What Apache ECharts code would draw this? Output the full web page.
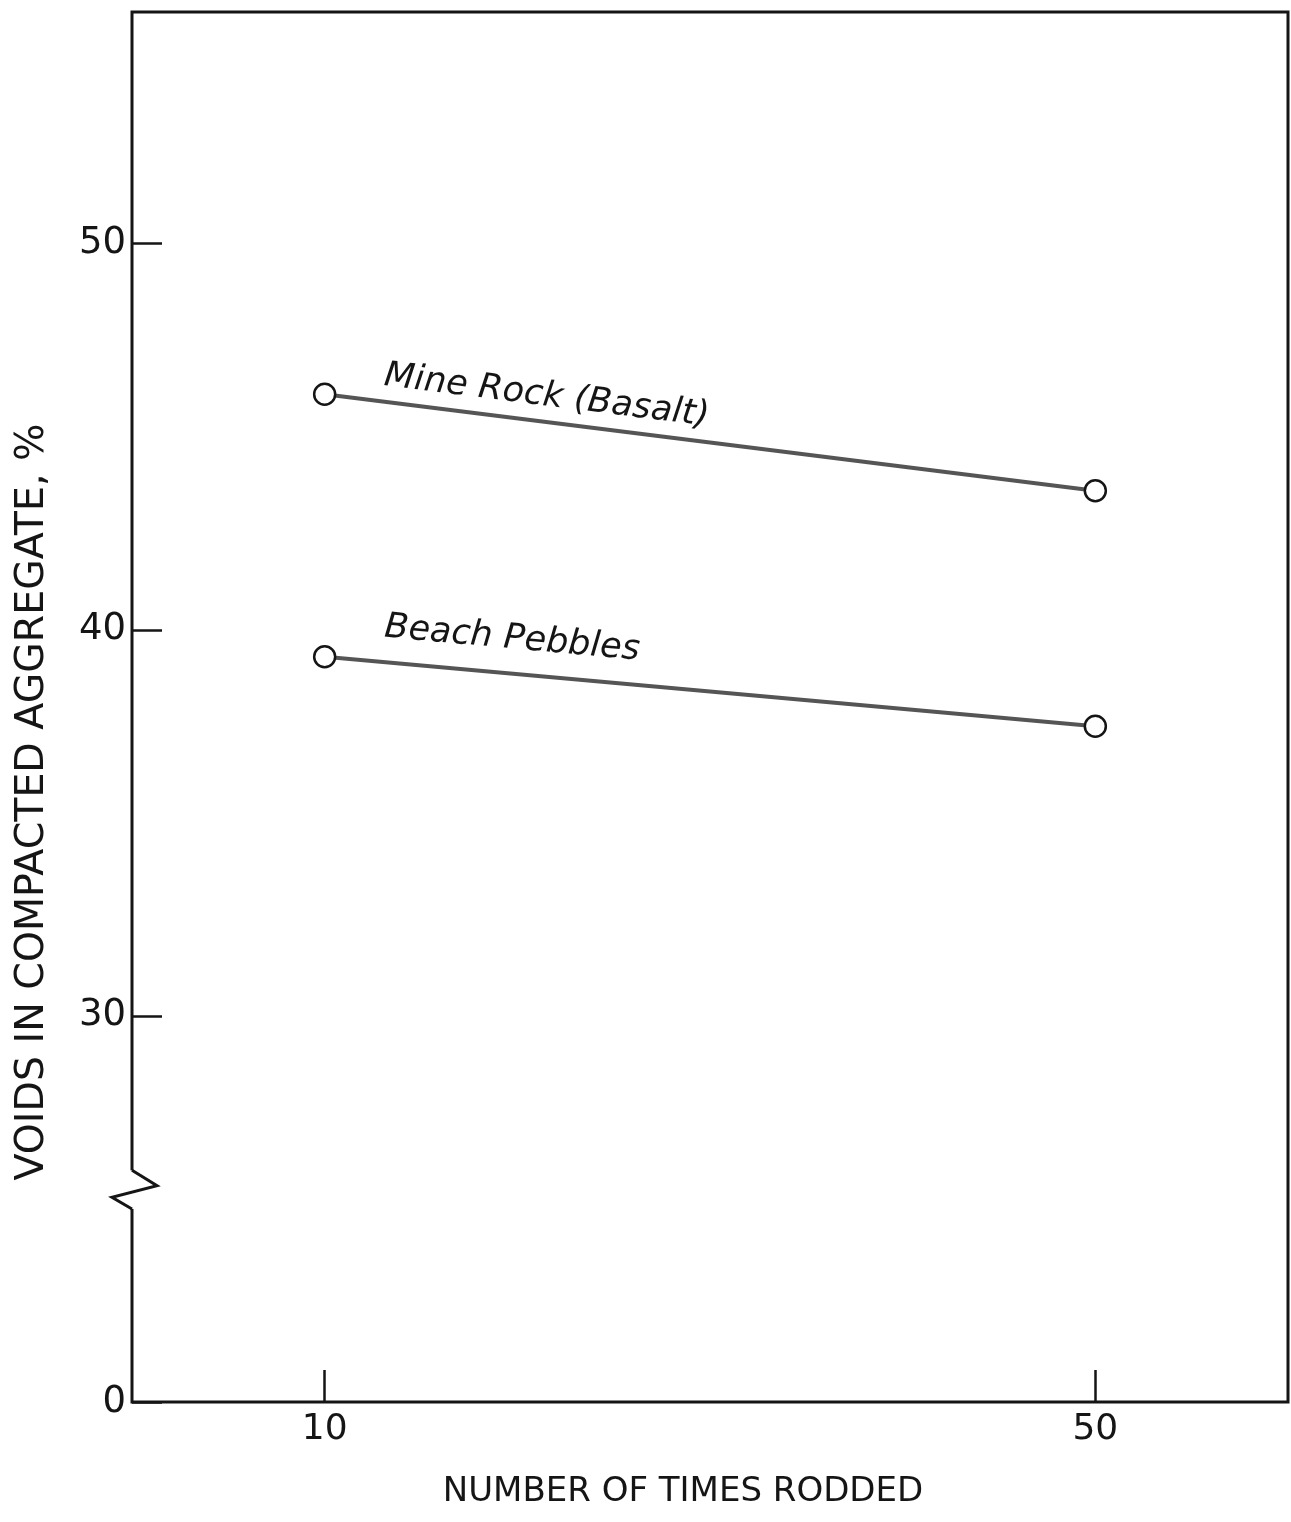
<!DOCTYPE html>
<html>
<head>
<meta charset="utf-8">
<title>Voids in Compacted Aggregate</title>
<script src="https://cdn.jsdelivr.net/npm/echarts@6.0.0/dist/echarts.min.js"></script>
<style>
  html, body { margin: 0; padding: 0; background: #fff; }
  #chart { width: 1291px; height: 1522px; }
</style>
</head>
<body>
<div id="chart"></div>
<script>
// Rodding counts and measured void content (%)
const rodCounts = [10, 50];
const mineRock = [46.1, 43.6];
const beachPebbles = [39.3, 37.5];
const seriesNames = ['Mine Rock (Basalt)', 'Beach Pebbles'];

// Axis tick positions; the bottom of the value axis is broken and labelled 0
const xTicks = [10, 50];
const yTicks = [20, 30, 40, 50];
const yTickLabels = { 20: '0', 30: '30', 40: '40', 50: '50' };
const breakValues = [26, 25.6, 25.3, 25];

const FONT = '"DejaVu Sans", sans-serif';
const INK = '#151515';

const chart = echarts.init(document.getElementById('chart'));

function lineSeries(name, values) {
  return {
    name: name,
    type: 'line',
    data: rodCounts.map((x, i) => [x, values[i]]),
    symbol: 'circle',
    symbolSize: 21,
    showSymbol: true,
    lineStyle: { color: '#555', width: 4 },
    itemStyle: { color: '#fff', borderColor: INK, borderWidth: 2.5 },
    z: 3
  };
}

chart.setOption({
  animation: false,
  backgroundColor: '#fff',
  grid: {
    left: 132, right: 3, top: 12, bottom: 120,
    show: true, borderColor: INK, borderWidth: 3, backgroundColor: 'transparent'
  },
  xAxis: {
    type: 'value', min: 0, max: 60,
    axisLine: { show: false },
    splitLine: { show: false },
    axisTick: {
      show: true, inside: true, length: 32, customValues: xTicks,
      lineStyle: { color: INK, width: 2.5 }
    },
    axisLabel: {
      show: true, customValues: xTicks, margin: 10,
      fontFamily: FONT, fontSize: 36, color: INK
    }
  },
  yAxis: {
    type: 'value', min: 20, max: 56,
    axisLine: { show: false },
    splitLine: { show: false },
    axisTick: {
      show: true, inside: true, length: 30, customValues: yTicks,
      lineStyle: { color: INK, width: 2.5 }
    },
    axisLabel: {
      show: true, customValues: yTicks, margin: 6,
      fontFamily: FONT, fontSize: 37, color: INK,
      formatter: v => yTickLabels[v] !== undefined ? yTickLabels[v] : ''
    }
  },
  series: [lineSeries(seriesNames[0], mineRock), lineSeries(seriesNames[1], beachPebbles)]
});

// Overlay: series captions along each line, axis titles and the axis break mark
function seriesCaption(name, values, dx, dy) {
  const p0 = chart.convertToPixel({ gridIndex: 0 }, [rodCounts[0], values[0]]);
  const p1 = chart.convertToPixel({ gridIndex: 0 }, [rodCounts[1], values[1]]);
  const angle = Math.atan2(p1[1] - p0[1], p1[0] - p0[0]);
  const ox = p0[0] + dx * Math.cos(angle) - dy * Math.sin(angle);
  const oy = p0[1] + dx * Math.sin(angle) + dy * Math.cos(angle);
  return {
    type: 'text', x: ox, y: oy, rotation: -angle, z: 10,
    style: {
      text: name, fill: INK,
      font: 'italic 35px ' + FONT,
      textAlign: 'left', textVerticalAlign: 'bottom'
    }
  };
}

const leftEdge = chart.convertToPixel({ gridIndex: 0 }, [0, 20])[0];
const bp = breakValues.map(v => chart.convertToPixel({ gridIndex: 0 }, [0, v])[1]);

chart.setOption({
  graphic: [
    seriesCaption(seriesNames[0], mineRock, 57, -8),
    seriesCaption(seriesNames[1], beachPebbles, 57, -17),
    {
      type: 'text', x: 33, y: 802, rotation: Math.PI / 2, z: 10,
      style: {
        text: 'VOIDS IN COMPACTED AGGREGATE, %', fill: INK,
        font: '39.5px ' + FONT, textAlign: 'center', textVerticalAlign: 'middle'
      }
    },
    {
      type: 'text', x: 683, y: 1492, z: 10,
      style: {
        text: 'NUMBER OF TIMES RODDED', fill: INK,
        font: '34px ' + FONT, textAlign: 'center', textVerticalAlign: 'middle'
      }
    },
    {
      type: 'rect', z: 20,
      shape: { x: leftEdge - 4, y: bp[0], width: 8, height: bp[3] - bp[0] },
      style: { fill: '#fff' }
    },
    {
      type: 'polyline', z: 21,
      shape: {
        points: [
          [leftEdge, bp[0]],
          [leftEdge + 25, bp[1]],
          [leftEdge - 20, bp[2]],
          [leftEdge, bp[3]]
        ]
      },
      style: { stroke: INK, lineWidth: 3, fill: null, lineJoin: 'miter' }
    }
  ]
});
</script>
</body>
</html>
